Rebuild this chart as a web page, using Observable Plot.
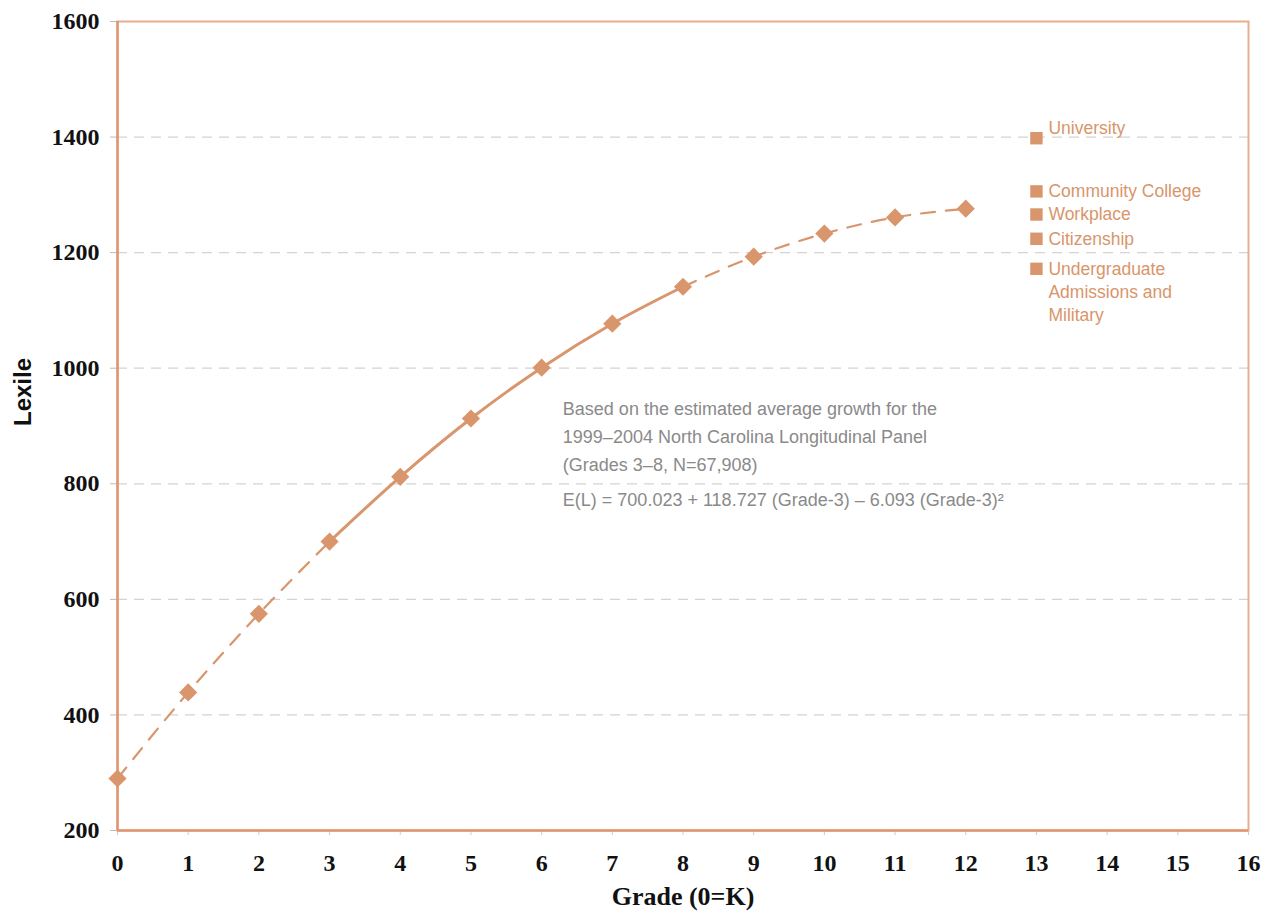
<!DOCTYPE html>
<html>
<head>
<meta charset="utf-8">
<script src="https://cdn.jsdelivr.net/npm/d3@7"></script>
<script src="https://cdn.jsdelivr.net/npm/@observablehq/plot@0.6"></script>
<style>
  html, body { margin: 0; padding: 0; background: #ffffff; }
  #chart { width: 1271px; height: 920px; }
</style>
</head>
<body>
<div id="chart"></div>
<script>
// Data
const grades = [0, 1, 2, 3, 4, 5, 6, 7, 8, 9, 10, 11, 12];
const lexile = [290, 439, 575, 700, 812, 913, 1001, 1077, 1141, 1193, 1233, 1261, 1276];

const benchmarkLabels = ["University", "Community College", "Workplace", "Citizenship", "Undergraduate\nAdmissions and\nMilitary"];
const benchmarkValues = [1398, 1306, 1266, 1224, 1172];
const benchmarkGrade = 13;

const xTicks = [0, 1, 2, 3, 4, 5, 6, 7, 8, 9, 10, 11, 12, 13, 14, 15, 16];
const yTicks = [200, 400, 600, 800, 1000, 1200, 1400, 1600];
const gridValues = [400, 600, 800, 1000, 1200, 1400];

const noteLines = "Based on the estimated average growth for the\n1999–2004 North Carolina Longitudinal Panel\n(Grades 3–8, N=67,908)";
const formula = "E(L) = 700.023 + 118.727 (Grade-3) – 6.093 (Grade-3)²";

const points = grades.map((g, i) => ({grade: g, lexile: lexile[i]}));
const early = points.filter(d => d.grade <= 3);
const measured = points.filter(d => d.grade >= 3 && d.grade <= 8);
const late = points.filter(d => d.grade >= 8);
const benchmarks = benchmarkLabels.map((label, i) => ({label, value: benchmarkValues[i], grade: benchmarkGrade}));

const orange = "#d9956b";
const serif = "'Liberation Serif', 'DejaVu Serif', serif";
const sans = "'Liberation Sans', Arial, sans-serif";

const chart = Plot.plot({
  width: 1271,
  height: 920,
  marginLeft: 117,
  marginRight: 23,
  marginTop: 21,
  marginBottom: 90,
  style: {background: "#ffffff", overflow: "visible"},
  x: {domain: [0, 16]},
  y: {domain: [200, 1600]},
  marks: [
    Plot.gridY(gridValues, {stroke: "#d4d4d4", strokeOpacity: 1, strokeWidth: 1.2, strokeDasharray: "10,7"}),
    Plot.axisY(yTicks, {
      label: null, tickSize: 7, tickPadding: 11, stroke: "#bbbbbb", tickFormat: d3.format("d"),
      fontSize: 24, fontWeight: "bold", fontFamily: serif, fill: "#111111"
    }),
    Plot.axisX(xTicks, {
      label: null, tickSize: 5, tickPadding: 18, stroke: "#cccccc", tickFormat: d3.format("d"),
      fontSize: 24, fontWeight: "bold", fontFamily: serif, fill: "#111111"
    }),
    Plot.frame({stroke: "#e9ad8d", strokeWidth: 2}),
    Plot.ruleX([0], {stroke: "#df9672", strokeWidth: 2.5}),
    Plot.ruleY([200], {stroke: "#df9672", strokeWidth: 2.5}),
    Plot.line(early, {x: "grade", y: "lexile", stroke: orange, strokeWidth: 2.2, strokeDasharray: "14,11", curve: "monotone-x"}),
    Plot.line(measured, {x: "grade", y: "lexile", stroke: orange, strokeWidth: 3, curve: "monotone-x"}),
    Plot.line(late, {x: "grade", y: "lexile", stroke: orange, strokeWidth: 2.2, strokeDasharray: "14,11", curve: "monotone-x"}),
    Plot.dot(points, {x: "grade", y: "lexile", symbol: "diamond2", r: 8.2, fill: orange, stroke: "none"}),
    Plot.dot(benchmarks, {x: "grade", y: "value", symbol: "square", r: 7, fill: orange, stroke: "none"}),
    Plot.text(benchmarks.filter(d => d.label === "University"), {
      x: "grade", y: "value", text: "label", dx: 12, dy: -17, lineAnchor: "top",
      textAnchor: "start", fontSize: 17.5, fontFamily: sans, fill: orange
    }),
    Plot.text(benchmarks.filter(d => d.label !== "University"), {
      x: "grade", y: "value", text: "label", dx: 12, dy: -10.5, lineAnchor: "top", lineHeight: 1.32,
      textAnchor: "start", fontSize: 17.5, fontFamily: sans, fill: orange
    }),
    Plot.text([noteLines], {
      x: 6.3, y: 954, lineAnchor: "top", lineHeight: 1.56, textAnchor: "start",
      fontSize: 18, fontFamily: sans, fill: "#8a8a8a"
    }),
    Plot.text([formula], {
      x: 6.3, y: 771, textAnchor: "start",
      fontSize: 18, fontFamily: sans, fill: "#8a8a8a"
    }),
    Plot.text(["Lexile"], {
      frameAnchor: "left", dx: -94, rotate: -90,
      fontSize: 24, fontWeight: "bold", fontFamily: sans, fill: "#111111"
    }),
    Plot.text(["Grade (0=K)"], {
      frameAnchor: "bottom", dy: 74,
      fontSize: 26, fontWeight: "bold", fontFamily: serif, fill: "#111111"
    })
  ]
});

document.getElementById("chart").appendChild(chart);
</script>
</body>
</html>
